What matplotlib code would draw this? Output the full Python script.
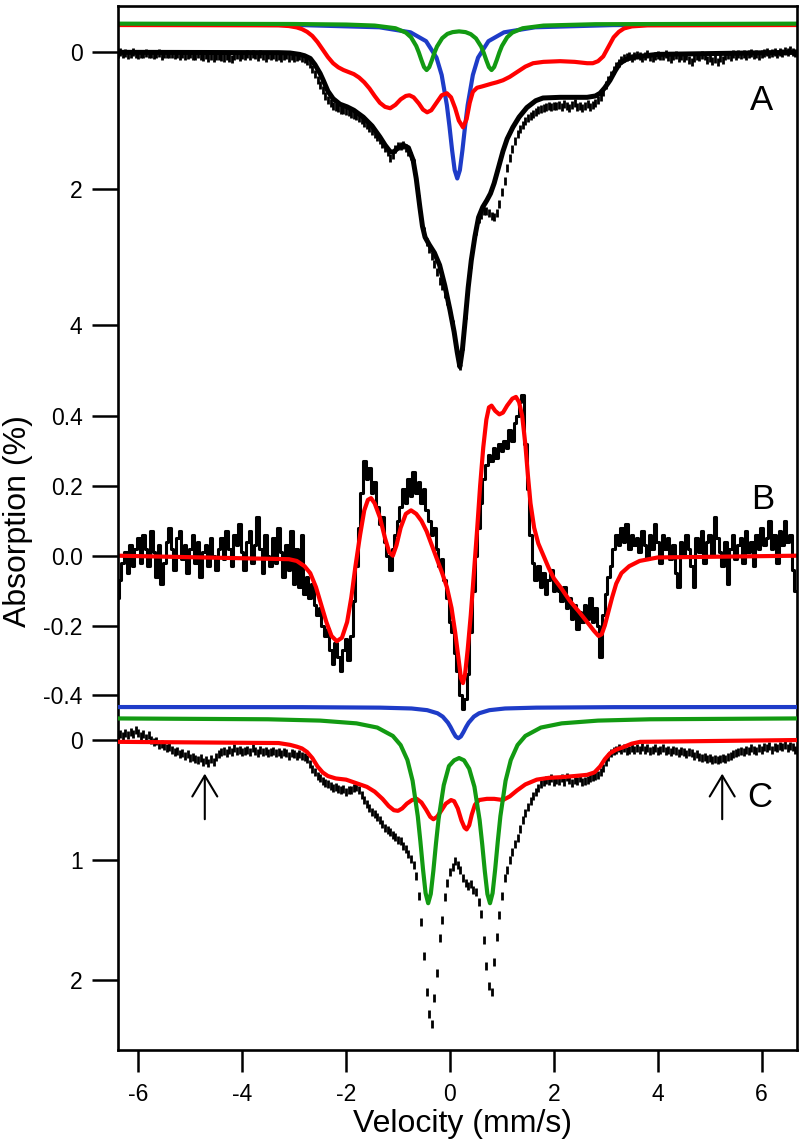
import numpy as np
import matplotlib
matplotlib.use('Agg')
import matplotlib.pyplot as plt

plt.rcParams['font.family'] = ['Liberation Sans', 'DejaVu Sans']
plt.rcParams['axes.unicode_minus'] = False

# ---------------- data (velocity channels: -6.40 + 0.05*i) ----------------
V_START, V_STEP = -6.40, 0.05

a_data = [
    0.02, 0.00, 0.03, 0.01, 0.04, 0.02, 0.00, 0.03, 0.04, 0.02,
    0.03, 0.01, 0.03, 0.02, 0.04, 0.02, 0.01, 0.05, 0.03, 0.02,
    0.03, 0.02, 0.04, 0.02, 0.05, 0.03, 0.06, 0.04, 0.02, 0.05,
    0.06, 0.03, 0.05, 0.07, 0.04, 0.08, 0.05, 0.09, 0.05, 0.06,
    0.07, 0.09, 0.05, 0.08, 0.10, 0.06, 0.04, 0.07, 0.04, 0.05,
    0.03, 0.05, 0.02, 0.04, 0.07, 0.03, 0.05, 0.08, 0.04, 0.06,
    0.04, 0.07, 0.05, 0.09, 0.06, 0.04, 0.08, 0.06, 0.09, 0.07,
    0.06, 0.08, 0.10, 0.13, 0.17, 0.24, 0.32, 0.40, 0.48, 0.55,
    0.64, 0.70, 0.75, 0.78, 0.80, 0.82, 0.84, 0.85, 0.86, 0.88,
    0.90, 0.92, 0.94, 0.96, 0.99, 1.03, 1.07, 1.11, 1.15, 1.20,
    1.24, 1.29, 1.34, 1.40, 1.46, 1.55, 1.50, 1.42, 1.38, 1.37,
    1.36, 1.40, 1.46, 1.52, 1.62, 1.85, 2.15, 2.40, 2.62, 2.78,
    2.88, 2.98, 3.10, 3.22, 3.35, 3.42, 3.55, 3.65, 3.80, 3.98,
    4.20, 4.45, 4.60, 4.30, 3.85, 3.45, 3.10, 2.85, 2.62, 2.45,
    2.38, 2.33, 2.32, 2.36, 2.40, 2.42, 2.36, 2.22, 2.05, 1.88,
    1.70, 1.55, 1.42, 1.30, 1.20, 1.12, 1.06, 1.01, 0.97, 0.94,
    0.90, 0.88, 0.85, 0.83, 0.81, 0.80, 0.79, 0.80, 0.78, 0.79,
    0.77, 0.80, 0.76, 0.79, 0.82, 0.77, 0.75, 0.80, 0.78, 0.81,
    0.78, 0.76, 0.80, 0.77, 0.74, 0.70, 0.66, 0.58, 0.48, 0.40,
    0.33, 0.26, 0.20, 0.15, 0.12, 0.09, 0.07, 0.06, 0.08, 0.05,
    0.04, 0.06, 0.08, 0.05, 0.03, 0.07, 0.09, 0.05, 0.04, 0.06,
    0.05, 0.03, 0.07, 0.10, 0.06, 0.04, 0.08, 0.05, 0.09, 0.06,
    0.11, 0.14, 0.08, 0.05, 0.07, 0.04, 0.06, 0.12, 0.09, 0.13,
    0.10, 0.14, 0.08, 0.11, 0.06, 0.04, 0.07, 0.03, 0.05, 0.02,
    0.04, 0.02, 0.05, 0.03, 0.01, 0.04, 0.02, 0.06, 0.03, 0.01,
    0.00, 0.03, 0.01, -0.01, 0.02, 0.00, 0.01, -0.02, 0.00, -0.03,
    -0.01, 0.01]

b_data = [
    -0.12, -0.07, -0.02, 0.01, -0.05, 0.03, -0.03, 0.02, 0.05, -0.02,
    0.06, 0.02, -0.03, 0.07, 0.01, -0.06, 0.03, -0.08, -0.02, 0.04,
    0.08, 0.02, -0.04, 0.05, 0.07, -0.01, 0.03, -0.05, 0.02, 0.06,
    -0.02, 0.04, -0.06, 0.01, 0.03, -0.03, 0.05, 0.00, -0.04, 0.02,
    0.05, -0.01, 0.07, 0.02, -0.03, 0.06, 0.03, 0.09, 0.01, -0.04,
    0.04, 0.07, -0.02, 0.03, 0.11, 0.02, -0.05, 0.06, 0.00, -0.03,
    0.05, -0.02, 0.08, 0.01, -0.06, 0.03, -0.04, 0.07, -0.08, 0.02,
    -0.09, 0.06, -0.11, -0.06, -0.12, -0.08, -0.14, -0.17, -0.15, -0.20,
    -0.23, -0.21, -0.27, -0.31, -0.25, -0.29, -0.33, -0.27, -0.24, -0.30,
    -0.23, -0.13, -0.03, 0.08, 0.18, 0.27, 0.22, 0.25, 0.18, 0.21,
    0.14, 0.09, 0.11, 0.04, 0.00, -0.04, 0.02, 0.06, 0.10, 0.14,
    0.19, 0.15, 0.22, 0.17, 0.24, 0.18, 0.21, 0.15, 0.19, 0.13,
    0.10, 0.06, 0.08, 0.02, -0.03, -0.01, -0.07, -0.12, -0.19, -0.22,
    -0.28, -0.33, -0.40, -0.44, -0.41, -0.34, -0.22, -0.10, 0.00, 0.08,
    0.15, 0.22, 0.26, 0.29, 0.27, 0.31, 0.28, 0.32, 0.30, 0.33,
    0.31, 0.36, 0.33, 0.38, 0.40, 0.44, 0.46, 0.32, 0.19, 0.06,
    -0.02, -0.07, -0.03, -0.09, -0.05, -0.11, -0.07, -0.04, -0.10, -0.08,
    -0.10, -0.13, -0.09, -0.15, -0.12, -0.18, -0.14, -0.21, -0.16, -0.19,
    -0.14, -0.18, -0.12, -0.19, -0.15, -0.20, -0.29, -0.17, -0.11, -0.06,
    -0.03, 0.02, 0.06, 0.03, 0.08, 0.04, 0.09, 0.02, 0.06, 0.03,
    0.05, 0.01, 0.07, 0.03, -0.01, 0.06, 0.02, 0.09, 0.04, -0.02,
    0.06, 0.02, 0.05, -0.01, 0.03, -0.05, -0.09, 0.04, 0.00, 0.06,
    0.02, -0.03, -0.09, 0.05, 0.01, 0.07, -0.02, 0.04, 0.06, 0.00,
    0.11, 0.05, 0.01, -0.03, 0.04, -0.08, 0.02, 0.06, -0.01, 0.03,
    0.05, -0.02, 0.07, 0.01, 0.04, -0.03, 0.06, 0.02, 0.08, 0.03,
    0.05, 0.10, 0.02, 0.06, -0.02, 0.07, 0.03, 0.10, 0.04, 0.06,
    -0.04, -0.10]

c_data = [
    -0.02, -0.05, -0.03, -0.06, -0.04, -0.07, -0.05, -0.08, -0.06, -0.03,
    -0.05, -0.02, -0.04, 0.00, 0.02, 0.01, 0.04, 0.03, 0.05, 0.07,
    0.06, 0.08, 0.10, 0.09, 0.12, 0.11, 0.13, 0.12, 0.15, 0.14,
    0.16, 0.17, 0.15, 0.18, 0.17, 0.19, 0.16, 0.18, 0.14, 0.12,
    0.10, 0.09, 0.11, 0.08, 0.10, 0.07, 0.09, 0.08, 0.10, 0.09,
    0.08, 0.10, 0.07, 0.09, 0.11, 0.08, 0.10, 0.09, 0.11, 0.10,
    0.09, 0.11, 0.10, 0.12, 0.10, 0.11, 0.13, 0.11, 0.12, 0.13,
    0.12, 0.13, 0.14, 0.16, 0.20, 0.24, 0.27, 0.30, 0.32, 0.34,
    0.36, 0.37, 0.38, 0.40, 0.39, 0.41, 0.42, 0.41, 0.43, 0.42,
    0.42, 0.40, 0.39, 0.42, 0.46, 0.50, 0.53, 0.57, 0.60, 0.62,
    0.64, 0.67, 0.70, 0.73, 0.75, 0.77, 0.79, 0.81, 0.83, 0.84,
    0.88, 0.91, 0.95, 0.99, 1.04, 1.13, 1.30, 1.52, 1.80, 2.10,
    2.28, 2.37, 2.15, 1.94, 1.65, 1.50, 1.31, 1.19, 1.10, 1.06,
    1.01, 1.04, 1.08, 1.15, 1.19, 1.22, 1.20, 1.25, 1.27, 1.35,
    1.45, 1.67, 1.88, 2.05, 2.10, 1.85, 1.64, 1.46, 1.30, 1.15,
    1.08, 1.00, 0.93, 0.87, 0.82, 0.74, 0.67, 0.61, 0.56, 0.51,
    0.47, 0.43, 0.40, 0.37, 0.35, 0.33, 0.34, 0.32, 0.35, 0.33,
    0.34, 0.32, 0.35, 0.31, 0.33, 0.36, 0.33, 0.34, 0.32, 0.35,
    0.34, 0.33, 0.32, 0.31, 0.30, 0.29, 0.27, 0.23, 0.18, 0.14,
    0.11, 0.09, 0.08, 0.07, 0.08, 0.07, 0.09, 0.08, 0.07, 0.08,
    0.07, 0.08, 0.06, 0.08, 0.07, 0.09, 0.08, 0.07, 0.09, 0.08,
    0.07, 0.09, 0.08, 0.10, 0.08, 0.09, 0.11, 0.09, 0.10, 0.12,
    0.10, 0.11, 0.13, 0.12, 0.14, 0.15, 0.14, 0.16, 0.15, 0.17,
    0.16, 0.17, 0.16, 0.15, 0.16, 0.14, 0.13, 0.12, 0.11, 0.10,
    0.09, 0.10, 0.08, 0.09, 0.07, 0.08, 0.09, 0.07, 0.08, 0.06,
    0.07, 0.05, 0.08, 0.06, 0.07, 0.05, 0.06, 0.04, 0.07, 0.05,
    0.06, 0.08]

# ---------------- fitted curves (knots) ----------------
a_fit_x = [-6.39, -3.30, -3.08, -2.90, -2.80, -2.69, -2.60, -2.50, -2.44, -2.35,
           -2.25, -2.12, -1.98, -1.85, -1.67, -1.50, -1.35, -1.25, -1.15, -1.08,
           -1.00, -0.90, -0.80, -0.71, -0.65, -0.58, -0.53, -0.48, -0.40, -0.30,
           -0.20, -0.10, 0.00, 0.08, 0.14, 0.19, 0.24, 0.29, 0.35, 0.41,
           0.48, 0.55, 0.63, 0.71, 0.78, 0.85, 0.93, 1.02, 1.10, 1.21,
           1.33, 1.48, 1.65, 1.79, 2.12, 2.64, 2.80, 2.89, 2.98, 3.08,
           3.18, 3.27, 3.40, 3.52, 4.00, 6.67]
a_fit_y = [0.00, 0.005, 0.01, 0.03, 0.05, 0.09, 0.18, 0.31, 0.41, 0.57,
           0.68, 0.76, 0.80, 0.85, 0.95, 1.08, 1.24, 1.36, 1.46, 1.46,
           1.40, 1.36, 1.40, 1.58, 1.85, 2.27, 2.55, 2.71, 2.82, 2.94,
           3.12, 3.42, 3.78, 4.10, 4.40, 4.61, 4.35, 3.95, 3.45, 3.05,
           2.70, 2.42, 2.27, 2.17, 2.07, 1.92, 1.70, 1.45, 1.27, 1.10,
           0.95, 0.81, 0.71, 0.67, 0.66, 0.66, 0.64, 0.60, 0.52, 0.41,
           0.27, 0.16, 0.10, 0.07, 0.03, 0.00]

a_red_x = [-6.39, -3.30, -3.10, -2.95, -2.85, -2.75, -2.65, -2.55, -2.45, -2.35,
           -2.25, -2.15, -2.05, -1.95, -1.85, -1.75, -1.65, -1.55, -1.45, -1.35,
           -1.25, -1.15, -1.05, -0.95, -0.85, -0.78, -0.70, -0.60, -0.52, -0.44,
           -0.36, -0.26, -0.16, -0.06, 0.02, 0.10, 0.17, 0.25, 0.32, 0.38,
           0.44, 0.52, 0.62, 0.71, 0.80, 0.90, 1.02, 1.15, 1.29, 1.45,
           1.60, 1.80, 2.12, 2.40, 2.64, 2.75, 2.85, 2.95, 3.05, 3.15,
           3.25, 3.35, 3.50, 3.80, 6.67]
a_red_y = [-0.40, -0.395, -0.385, -0.365, -0.34, -0.30, -0.24, -0.15, -0.04, 0.07,
           0.16, 0.22, 0.26, 0.29, 0.32, 0.37, 0.44, 0.53, 0.64, 0.74,
           0.80, 0.82, 0.77, 0.69, 0.64, 0.63, 0.66, 0.75, 0.84, 0.88,
           0.85, 0.74, 0.63, 0.60, 0.66, 0.82, 1.00, 1.10, 0.98, 0.74,
           0.58, 0.52, 0.50, 0.48, 0.46, 0.44, 0.41, 0.36, 0.29, 0.21,
           0.16, 0.14, 0.13, 0.14, 0.16, 0.16, 0.13, 0.06, -0.08, -0.22,
           -0.30, -0.35, -0.38, -0.395, -0.40]

a_green_x = [-6.39, -3.00, -2.00, -1.45, -1.05, -0.85, -0.75, -0.65, -0.60, -0.55,
             -0.50, -0.45, -0.40, -0.35, -0.30, -0.25, -0.15, -0.05, 0.05, 0.175,
             0.30, 0.40, 0.50, 0.60, 0.65, 0.70, 0.75, 0.80, 0.85, 0.90,
             0.95, 1.00, 1.10, 1.20, 1.40, 1.80, 2.80, 6.67]
a_green_y = [-0.42, -0.415, -0.407, -0.392, -0.353, -0.289, -0.22, -0.093, 0.002, 0.113,
             0.216, 0.26, 0.218, 0.118, 0.008, -0.085, -0.207, -0.27, -0.296, -0.307,
             -0.296, -0.266, -0.204, -0.084, 0.009, 0.119, 0.218, 0.26, 0.216, 0.114,
             0.002, -0.093, -0.22, -0.289, -0.353, -0.392, -0.412, -0.42]

a_blue_x = [-6.39, -2.86, -1.36, -0.76, -0.46, -0.26, -0.16, -0.06, -0.01, 0.04,
            0.09, 0.14, 0.19, 0.24, 0.29, 0.34, 0.44, 0.54, 0.74, 1.04,
            1.64, 3.14, 6.67]
a_blue_y = [-0.41, -0.399, -0.367, -0.293, -0.163, 0.078, 0.333, 0.775, 1.086, 1.432,
            1.728, 1.85, 1.728, 1.432, 1.086, 0.775, 0.333, 0.078, -0.163, -0.293,
            -0.367, -0.399, -0.41]

b_fit_x = [-6.39, -3.10, -2.95, -2.80, -2.69, -2.58, -2.48, -2.38, -2.28, -2.18,
           -2.08, -1.98, -1.90, -1.82, -1.73, -1.65, -1.58, -1.52, -1.45, -1.35,
           -1.25, -1.17, -1.10, -1.03, -0.95, -0.85, -0.75, -0.65, -0.55, -0.45,
           -0.35, -0.25, -0.15, -0.06, 0.03, 0.10, 0.16, 0.21, 0.25, 0.29,
           0.34, 0.40, 0.46, 0.52, 0.58, 0.64, 0.70, 0.75, 0.80, 0.87,
           0.95, 1.02, 1.10, 1.20, 1.27, 1.33, 1.39, 1.45, 1.50, 1.55,
           1.62, 1.70, 1.80, 1.90, 2.00, 2.15, 2.31, 2.48, 2.64, 2.77,
           2.86, 2.92, 2.98, 3.05, 3.12, 3.20, 3.30, 3.45, 3.65, 4.00,
           6.67]
b_fit_y = [0.00, -0.01, -0.015, -0.03, -0.05, -0.09, -0.14, -0.19, -0.23, -0.245,
           -0.235, -0.19, -0.12, -0.03, 0.06, 0.13, 0.16, 0.165, 0.15, 0.11,
           0.05, 0.01, 0.00, 0.03, 0.08, 0.12, 0.13, 0.12, 0.10, 0.07,
           0.03, -0.01, -0.05, -0.09, -0.15, -0.22, -0.29, -0.35, -0.365, -0.34,
           -0.27, -0.17, -0.05, 0.07, 0.20, 0.31, 0.39, 0.425, 0.43, 0.415,
           0.405, 0.41, 0.43, 0.45, 0.455, 0.44, 0.40, 0.32, 0.23, 0.15,
           0.08, 0.035, 0.00, -0.035, -0.065, -0.095, -0.13, -0.16, -0.19, -0.215,
           -0.23, -0.225, -0.20, -0.16, -0.12, -0.08, -0.05, -0.03, -0.015, -0.005,
           0.00]

c_red_x = [-6.39, -3.30, -3.08, -2.95, -2.85, -2.75, -2.65, -2.55, -2.45, -2.35,
           -2.20, -2.00, -1.80, -1.60, -1.45, -1.30, -1.18, -1.08, -1.00, -0.92,
           -0.83, -0.73, -0.64, -0.55, -0.46, -0.38, -0.32, -0.25, -0.17, -0.08,
           0.02, 0.08, 0.15, 0.22, 0.28, 0.32, 0.37, 0.42, 0.48, 0.56,
           0.71, 0.85, 1.02, 1.15, 1.29, 1.45, 1.67, 1.90, 2.12, 2.40,
           2.64, 2.78, 2.89, 2.98, 3.08, 3.20, 3.33, 3.50, 3.66, 6.67]
c_red_y = [0.015, 0.025, 0.04, 0.055, 0.07, 0.10, 0.15, 0.22, 0.27, 0.30,
           0.32, 0.33, 0.36, 0.39, 0.43, 0.49, 0.55, 0.585, 0.59, 0.57,
           0.53, 0.50, 0.49, 0.52, 0.58, 0.64, 0.66, 0.64, 0.59, 0.53,
           0.50, 0.51, 0.57, 0.67, 0.73, 0.745, 0.71, 0.62, 0.54, 0.50,
           0.49, 0.49, 0.50, 0.47, 0.42, 0.37, 0.33, 0.315, 0.31, 0.30,
           0.29, 0.27, 0.22, 0.16, 0.11, 0.08, 0.06, 0.03, 0.015, 0.00]

c_green_x = [-6.39, -3.50, -2.50, -1.80, -1.40, -1.10, -0.95, -0.82, -0.72, -0.62,
             -0.57, -0.52, -0.47, -0.42, -0.37, -0.32, -0.27, -0.22, -0.12, -0.02,
             0.08, 0.175, 0.27, 0.37, 0.47, 0.57, 0.62, 0.67, 0.72, 0.77,
             0.82, 0.87, 0.92, 0.97, 1.07, 1.17, 1.30, 1.45, 1.75, 2.15,
             2.85, 3.85, 6.67]
c_green_y = [-0.18, -0.173, -0.162, -0.139, -0.104, -0.034, 0.042, 0.166, 0.339, 0.635,
             0.845, 1.075, 1.275, 1.36, 1.282, 1.089, 0.863, 0.659, 0.376, 0.217,
             0.169, 0.150, 0.169, 0.239, 0.389, 0.666, 0.867, 1.092, 1.283, 1.36,
             1.276, 1.076, 0.845, 0.635, 0.339, 0.167, 0.042, -0.034, -0.104, -0.139,
             -0.162, -0.173, -0.18]

c_blue_x = [-6.39, -2.84, -1.34, -0.74, -0.44, -0.24, -0.14, -0.04, 0.01, 0.06,
            0.11, 0.16, 0.21, 0.26, 0.31, 0.36, 0.46, 0.56, 0.76, 1.06,
            1.66, 3.16, 6.67]
c_blue_y = [-0.275, -0.274, -0.270, -0.263, -0.249, -0.223, -0.195, -0.145, -0.109, -0.067,
            -0.030, -0.015, -0.030, -0.067, -0.109, -0.145, -0.195, -0.223, -0.249, -0.263,
            -0.270, -0.274, -0.275]

x_ticks = [-6, -4, -2, 0, 2, 4, 6]
a_ticks = [0, 2, 4]
b_ticks = [-0.4, -0.2, 0.0, 0.2, 0.4]
c_ticks = [0, 1, 2]

# ---------------- figure ----------------
RED, GREEN, BLUE = '#ff0000', '#129a12', '#1e3cc8'
W, H = 804, 1144
fig = plt.figure(figsize=(W / 100, H / 100), dpi=100)
left_px, right_px, top_px, bot_px = 118.3, 796.7, 6.0, 1050.0
rect = [left_px / W, 1 - bot_px / H, (right_px - left_px) / W, (bot_px - top_px) / H]

axA = fig.add_axes(rect)
axB = fig.add_axes(rect, sharex=axA)
axC = fig.add_axes(rect, sharex=axA)

for ax in (axA, axB, axC):
    ax.patch.set_visible(False)
for ax in (axA, axB):
    for s in ax.spines.values():
        s.set_visible(False)
    ax.tick_params(axis='x', bottom=False, labelbottom=False)
for s in axC.spines.values():
    s.set_linewidth(1.9)

axC.set_xlim(-6.385, 6.674)
axA.set_ylim(14.629, -0.679)
axB.set_ylim(-1.4163, 1.5751)
axC.set_ylim(2.583, -6.117)


def grid_for(arr):
    return V_START + V_STEP * np.arange(len(arr))


# Panel A
axA.plot(grid_for(a_data), a_data, ls='none', marker='|', ms=6, mew=2.0,
         color='black', zorder=2)
axA.plot(a_fit_x, a_fit_y, color='black', lw=3.6, zorder=3,
         solid_joinstyle='round')
axA.plot(a_blue_x, a_blue_y, color=BLUE, lw=3.0, zorder=4, solid_joinstyle='round')
axA.plot(a_red_x, a_red_y, color=RED, lw=3.0, zorder=5, solid_joinstyle='round')
axA.plot(a_green_x, a_green_y, color=GREEN, lw=3.0, zorder=6, solid_joinstyle='round')

# Panel B
axB.plot(grid_for(b_data), b_data, color='black', lw=2.2, drawstyle='steps-mid', zorder=2)
axB.plot(b_fit_x, b_fit_y, color=RED, lw=3.0, zorder=3, solid_joinstyle='round')

# Panel C
axC.plot(grid_for(c_data), c_data, ls='none', marker='|', ms=6, mew=2.0,
         color='black', zorder=2)
axC.plot(c_blue_x, c_blue_y, color=BLUE, lw=3.0, zorder=3, solid_joinstyle='round')
axC.plot(c_red_x, c_red_y, color=RED, lw=3.0, zorder=4, solid_joinstyle='round')
axC.plot(c_green_x, c_green_y, color=GREEN, lw=3.0, zorder=5, solid_joinstyle='round')

for xa in (-4.72, 5.24):
    axC.annotate('', xy=(xa, 0.28), xytext=(xa, 0.66),
                 arrowprops=dict(arrowstyle='->,head_length=1.0,head_width=0.6',
                                 lw=1.5, color='black', mutation_scale=15,
                                 shrinkA=0, shrinkB=0))

# ticks
axC.set_xticks(x_ticks)
axC.set_xticklabels([str(t) for t in x_ticks])
axA.set_yticks(a_ticks)
axA.set_yticklabels([str(t) for t in a_ticks])
axB.set_yticks(b_ticks)
axB.set_yticklabels(['%.1f' % t for t in b_ticks])
axC.set_yticks(c_ticks)
axC.set_yticklabels([str(t) for t in c_ticks])

for ax in (axA, axB, axC):
    ax.tick_params(axis='y', direction='out', length=18.7, width=1.8, pad=7,
                   labelsize=16.5, right=False)
axC.tick_params(axis='x', direction='out', length=15.8, width=1.8, pad=8,
                labelsize=16.5, top=False)

# panel letters
axA.text(5.99, 0.71, 'A', fontsize=25, ha='center', va='center')
axB.text(6.02, 0.16, 'B', fontsize=25, ha='center', va='center')
axC.text(5.97, 0.475, 'C', fontsize=25, ha='center', va='center')

fig.text(18.5 / W, 1 - 521 / H, 'Absorption (%)', rotation=90,
         ha='center', va='center', fontsize=23)
fig.text(462.5 / W, 1 - 1124 / H, 'Velocity (mm/s)', ha='center', va='center',
         fontsize=23)

fig.savefig('out.png', dpi=100)
